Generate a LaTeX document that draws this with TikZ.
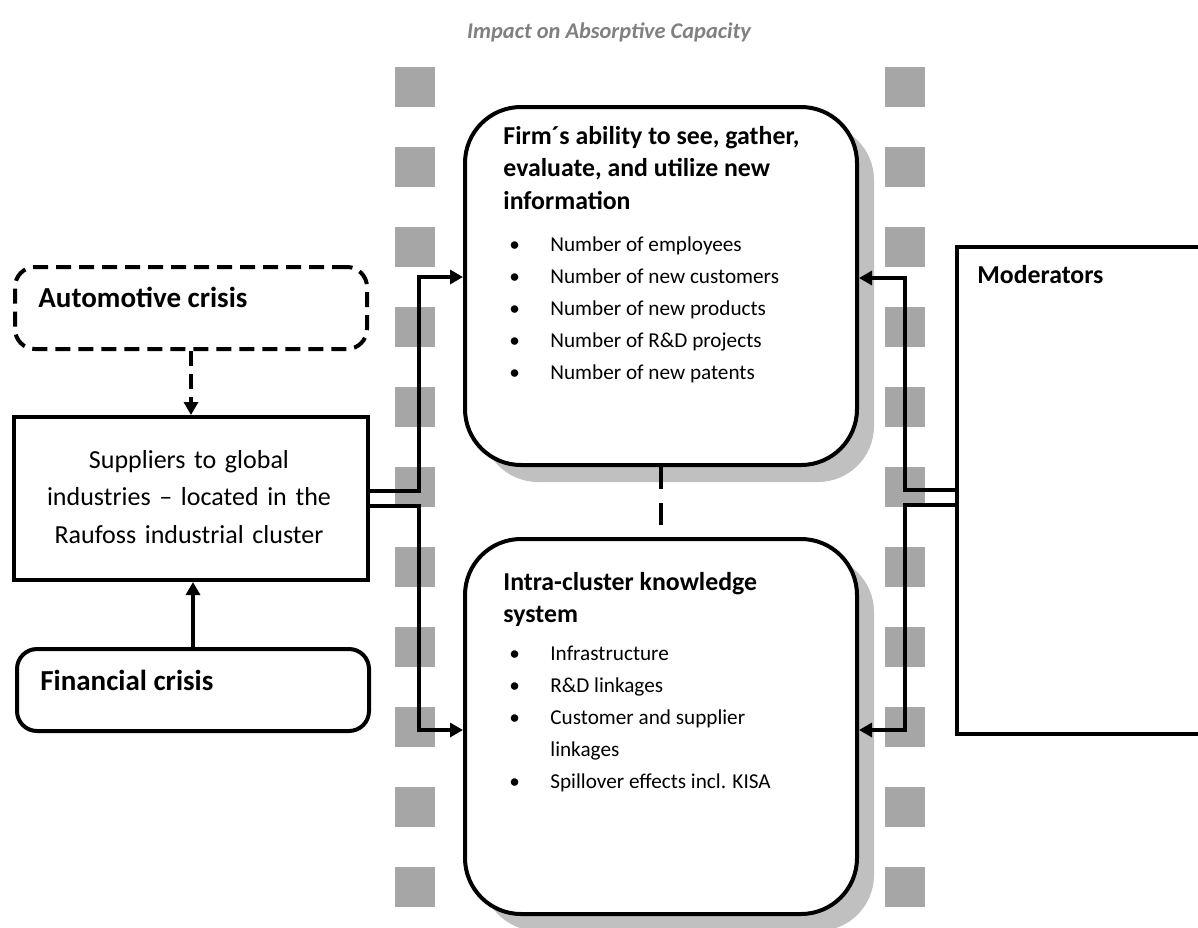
\documentclass[tikz,border=0pt]{standalone}
\usepackage{fontspec}
\setmainfont{Carlito}
\usetikzlibrary{arrows.meta,positioning,calc,shadows}
\definecolor{squaregray}{RGB}{166,166,166}
\definecolor{shadowgray}{RGB}{192,192,192}
\definecolor{titlegray}{RGB}{128,128,128}
\newcommand{\bitem}[1]{\makebox[23.5pt][l]{\hspace*{3pt}\textbullet}#1}

\begin{document}
\begin{tikzpicture}[x=0.5pt,y=-0.5pt,
  box/.style={draw,line width=2pt,fill=white,inner sep=0pt,anchor=north west},
  bigbox/.style={box,rounded corners=28pt,minimum width=196pt,
    drop shadow={shadow xshift=8.5pt,shadow yshift=-8.5pt,fill=shadowgray,opacity=1}},
  crisis/.style={box,rounded corners=10pt,minimum width=176pt,minimum height=41pt},
  arr/.style={line width=2pt,-{Triangle[length=6.5pt,width=7pt]}},
  big/.style={font=\fontsize{14.5}{17}\selectfont\bfseries,inner sep=0pt,anchor=base west},
  body/.style={font=\fontsize{10.6}{16}\selectfont,inner sep=0pt,anchor=base west,text width=185pt,align=flush left},
  head/.style={body,font=\fontsize{12.9}{16.25}\selectfont\bfseries}]
  \useasboundingbox (0,0) rectangle (1198,927);
  % the two columns of squares
  \foreach \k in {0,...,10}{
    \fill[squaregray] (395,67+80*\k) rectangle ++(40,40);
    \fill[squaregray] (885,67+80*\k) rectangle ++(40,40);
  }
  \node[font=\fontsize{11.2}{13}\selectfont\bfseries\itshape,text=titlegray] (title) at (609,32) {Impact on Absorptive Capacity};

  % left column
  \node[crisis,dash pattern=on 7.5pt off 4pt] (auto) at (13,265) {};
  \node[big] (autotxt) at (38,307) {Automotive crisis};
  \node[box,minimum width=177pt,minimum height=81.5pt] (sup) at (12,415) {};
  \node[body,anchor=base,align=center,text width=175pt,font=\fontsize{13}{18.75}\selectfont] (suptxt) at (189,468)
    {Suppliers to global\\ industries – located in the\\ Raufoss industrial cluster};
  \node[crisis] (fin) at (15,647) {};
  \node[big] (fintxt) at (40,690) {Financial crisis};

  % middle boxes
  \node[bigbox,minimum height=179pt] (firm) at (463,105) {};
  \node[head] (firmhead) at (503,144) {Firm´s ability to see, gather,\\ evaluate, and utilize new\\ information};
  \node[body] (firmlist) at (503,251) {\bitem{Number of employees}\\ \bitem{Number of new customers}\\
    \bitem{Number of new products}\\ \bitem{Number of R\&D projects}\\ \bitem{Number of new patents}};
  \node[bigbox,minimum height=187.5pt] (know) at (463,537) {};
  \node[head] (knowhead) at (503,590) {Intra-cluster knowledge\\ system};
  \node[body] (knowlist) at (503,660) {\bitem{Infrastructure}\\ \bitem{R\&D linkages}\\
    \bitem{Customer and supplier}\\ \hspace*{23.5pt}linkages\\ \bitem{Spillover effects incl. KISA}};

  % right box
  \node[box,minimum width=130pt,minimum height=243.5pt] (mod) at (955,245) {};
  \node[head] (modtxt) at (977,283) {Moderators};

  % connectors
  \draw[arr,dash pattern=on 7.5pt off 4pt] (auto.south) -- (auto.south |- sup.north);
  \draw[arr] (fin.north) -- (fin.north |- sup.south);
  \draw[arr] ($(sup.east)+(0,-8)$) -- ++(49,0) |- ($(firm.north west)+(0,172)$);
  \draw[arr] ($(sup.east)+(0,7)$) -- ++(49,0) |- ($(know.north west)+(0,193)$);
  \draw[arr] ($(mod.west)+(0,-0.5)$) -- ++(-50,0) |- ($(firm.north east)+(0,173)$);
  \draw[arr] ($(mod.west)+(0,14.5)$) -- ++(-50,0) |- ($(know.north east)+(0,193)$);
  \draw[line width=2pt,dash pattern=on 11pt off 7pt] (firm.south) -- (know.north);
\end{tikzpicture}
\end{document}
